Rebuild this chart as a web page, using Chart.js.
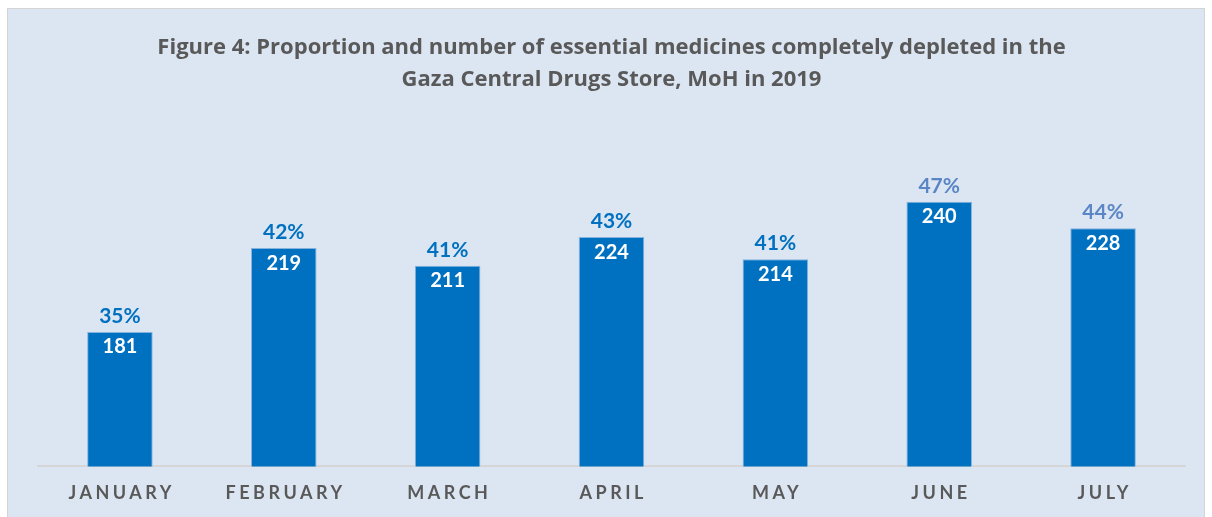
<!DOCTYPE html>
<html lang="en">
<head>
  <meta charset="UTF-8">
  <title>Figure 4: Essential medicines depleted</title>
  <script src="https://cdn.jsdelivr.net/npm/chart.js"></script>
  <style>
    body { margin: 0; background: #ffffff; }
    #panel { position: absolute; left: 7px; top: 8px; width: 1198px; height: 520px;
             background: #dce6f2; border: 1px solid #d4d4d4; box-sizing: border-box; }
    canvas { display: block; }
  </style>
</head>
<body>
  <div id="panel"><canvas id="grafico"></canvas></div>

  <script>
    const meses = ["JANUARY", "FEBRUARY", "MARCH", "APRIL", "MAY", "JUNE", "JULY"];
    const agotados = [181, 219, 211, 224, 214, 240, 228];
    const porcentajes = ["35%", "42%", "41%", "43%", "41%", "47%", "44%"];

    const azul = '#0070c0';
    const azulClaro = '#5a86c5';
    const espaciado = 3.5;

    // etiquetas sobre y dentro de las barras
    const etiquetas = {
      id: 'etiquetas',
      afterDatasetsDraw(chart) {
        const ctx = chart.ctx;
        const barras = chart.getDatasetMeta(0).data;
        ctx.save();
        ctx.textAlign = 'center';
        ctx.textBaseline = 'middle';
        barras.forEach((b, i) => {
          ctx.font = 'bold 21px Lato';
          ctx.fillStyle = i >= 5 ? azulClaro : azul;
          ctx.fillText(porcentajes[i], b.x, b.y - 16);
          ctx.font = 'bold 20px Lato';
          ctx.fillStyle = '#ffffff';
          ctx.fillText(agotados[i], b.x, b.y + 15);
        });
        ctx.restore();
        // espaciado de letras para los meses (se dibujan después, z = 1)
        ctx.letterSpacing = espaciado + 'px';
      },
      afterDraw(chart) {
        chart.ctx.letterSpacing = '0px';
      }
    };

    const ctx = document.getElementById('grafico').getContext('2d');
    new Chart(ctx, {
      type: 'bar',
      data: {
        labels: meses,
        datasets: [{
          data: agotados,
          backgroundColor: azul,
          borderColor: '#86b3dd',
          borderWidth: 1,
          barPercentage: 0.4,
          categoryPercentage: 1
        }]
      },
      options: {
        responsive: true,
        maintainAspectRatio: false,
        animation: false,
        layout: { padding: { left: 30, right: 19, bottom: 7 } },
        plugins: {
          legend: { display: false },
          tooltip: { enabled: false },
          title: {
            display: true,
            text: ['Figure 4: Proportion and number of essential medicines completely depleted in the',
                   'Gaza Central Drugs Store, MoH in 2019'],
            color: '#595959',
            font: { family: 'Open Sans', size: 22, weight: 'bold', lineHeight: 1.45 },
            padding: { top: 23, bottom: 20 }
          }
        },
        scales: {
          x: {
            grid: { display: false, drawTicks: false },
            border: { display: true, color: '#d6d6d6', width: 2 },
            ticks: {
              z: 1,
              color: '#595959',
              font: { family: 'Lato', size: 18, weight: 'bold' },
              padding: 16,
              labelOffset: espaciado / 2,
              autoSkip: false,
              maxRotation: 0
            }
          },
          y: {
            display: false,
            min: 120,
            max: 279
          }
        }
      },
      plugins: [etiquetas]
    });
  </script>
</body>
</html>
